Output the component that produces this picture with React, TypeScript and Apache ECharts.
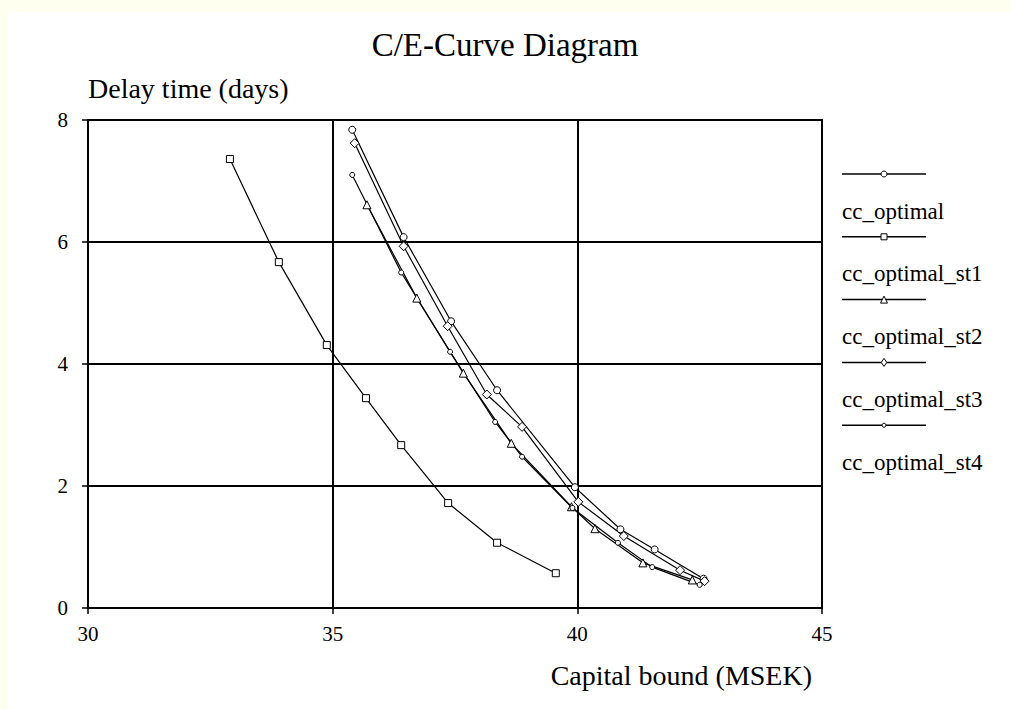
import React, { useEffect, useRef } from "react";
import * as echarts from "echarts";

const seriesNames = ["cc_optimal", "cc_optimal_st1", "cc_optimal_st2", "cc_optimal_st3", "cc_optimal_st4"];
const seriesSymbols = ["circle", "rect", "triangle", "diamond", "circle"];
const seriesSymbolSizes = [7, 7, 8, 9, 5];

const ccOptimal = [[35.4, 7.84], [36.45, 6.08], [37.42, 4.7], [38.36, 3.57], [39.95, 1.98], [40.88, 1.29], [41.58, 0.96], [42.58, 0.48]];
const ccOptimalSt1 = [[32.9, 7.36], [33.9, 5.67], [34.88, 4.31], [35.68, 3.44], [36.4, 2.67], [37.36, 1.72], [38.36, 1.07], [39.56, 0.57]];
const ccOptimalSt2 = [[35.7, 6.61], [36.72, 5.08], [37.67, 3.85], [38.65, 2.7], [39.88, 1.66], [40.36, 1.3], [41.34, 0.74], [42.35, 0.46]];
const ccOptimalSt3 = [[35.45, 7.62], [36.45, 5.93], [37.35, 4.62], [38.15, 3.5], [38.87, 2.97], [40.02, 1.74], [40.95, 1.18], [42.1, 0.62], [42.6, 0.44]];
const ccOptimalSt4 = [[35.4, 7.1], [36.4, 5.5], [37.4, 4.2], [38.32, 3.05], [38.87, 2.48], [39.9, 1.64], [40.83, 1.07], [41.53, 0.67], [42.5, 0.38]];
const seriesData = [ccOptimal, ccOptimalSt1, ccOptimalSt2, ccOptimalSt3, ccOptimalSt4];

const titleText = "C/E-Curve Diagram";
const yAxisName = "Delay time (days)";
const xAxisName = "Capital bound (MSEK)";

const FONT = "Liberation Serif";

function legendMarker(kind: string, cx: number, cy: number, size: number) {
  const style = { fill: "#fff", stroke: "#000", lineWidth: 1 };
  const r = size / 2;
  if (kind === "circle") return { type: "circle", shape: { cx, cy, r }, style };
  if (kind === "rect") return { type: "rect", shape: { x: cx - r, y: cy - r, width: size, height: size }, style };
  if (kind === "triangle")
    return { type: "polygon", shape: { points: [[cx, cy - r], [cx + r, cy + r], [cx - r, cy + r]] }, style };
  return { type: "polygon", shape: { points: [[cx, cy - r], [cx + r * 0.7, cy], [cx, cy + r], [cx - r * 0.7, cy]] }, style };
}

export default function App() {
  const ref = useRef<HTMLDivElement>(null);
  useEffect(() => {
    document.body.style.margin = "0";
    const chart = echarts.init(ref.current!, null, { renderer: "svg" });
    const legendEls: any[] = [];
    seriesNames.forEach((name, i) => {
      const ly = 162 + i * 62.8;
      legendEls.push({ type: "line", shape: { x1: 834, y1: ly, x2: 918, y2: ly }, style: { stroke: "#000", lineWidth: 1.5 } });
      legendEls.push(legendMarker(seriesSymbols[i], 876, ly, seriesSymbolSizes[i] - 1));
      legendEls.push({
        type: "text",
        x: 834,
        y: ly + 37,
        style: { text: name, fontFamily: FONT, fontSize: 23, fill: "#000", verticalAlign: "middle", align: "left" },
      });
    });
    chart.setOption({
      animation: false,
      backgroundColor: "#ffffff",
      textStyle: { fontFamily: FONT },
      grid: { left: 80, top: 108, width: 734, height: 488, show: true, borderColor: "#000", borderWidth: 2, backgroundColor: "transparent" },
      xAxis: {
        type: "value",
        min: 30,
        max: 45,
        interval: 5,
        axisLine: { show: true, lineStyle: { color: "#000", width: 2 } },
        axisTick: { show: true, inside: false, length: 6, lineStyle: { color: "#000", width: 1.5 } },
        axisLabel: { color: "#000", fontFamily: FONT, fontSize: 21, margin: 15 },
        splitLine: { show: true, lineStyle: { color: "#000", width: 2 } },
      },
      yAxis: {
        type: "value",
        min: 0,
        max: 8,
        interval: 2,
        axisLine: { show: true, lineStyle: { color: "#000", width: 2 } },
        axisTick: { show: true, inside: false, length: 6, lineStyle: { color: "#000", width: 1.5 } },
        axisLabel: { color: "#000", fontFamily: FONT, fontSize: 21, margin: 20 },
        splitLine: { show: true, lineStyle: { color: "#000", width: 2 } },
      },
      series: seriesNames.map((name, i) => ({
        name,
        type: "line",
        data: seriesData[i],
        symbol: seriesSymbols[i],
        symbolSize: seriesSymbolSizes[i],
        showSymbol: true,
        lineStyle: { color: "#000", width: 1.2 },
        itemStyle: { color: "#fff", borderColor: "#000", borderWidth: 1 },
        z: 3,
      })),
      graphic: [
        {
          type: "text",
          x: 497,
          y: 33,
          style: { text: titleText, fontFamily: FONT, fontSize: 33, fill: "#000", align: "center", verticalAlign: "middle" },
        },
        {
          type: "text",
          x: 80,
          y: 76,
          style: { text: yAxisName, fontFamily: FONT, fontSize: 28, fill: "#000", align: "left", verticalAlign: "middle" },
        },
        {
          type: "text",
          x: 804,
          y: 663,
          style: { text: xAxisName, fontFamily: FONT, fontSize: 28, fill: "#000", align: "right", verticalAlign: "middle" },
        },
        ...legendEls,
      ],
    });
    return () => chart.dispose();
  }, []);
  return (
    <div style={{ position: "relative", width: 1011, height: 709, background: "#fffff0", overflow: "hidden" }}>
      <div ref={ref} style={{ position: "absolute", left: 8, top: 12, width: 1003, height: 697 }} />
    </div>
  );
}
